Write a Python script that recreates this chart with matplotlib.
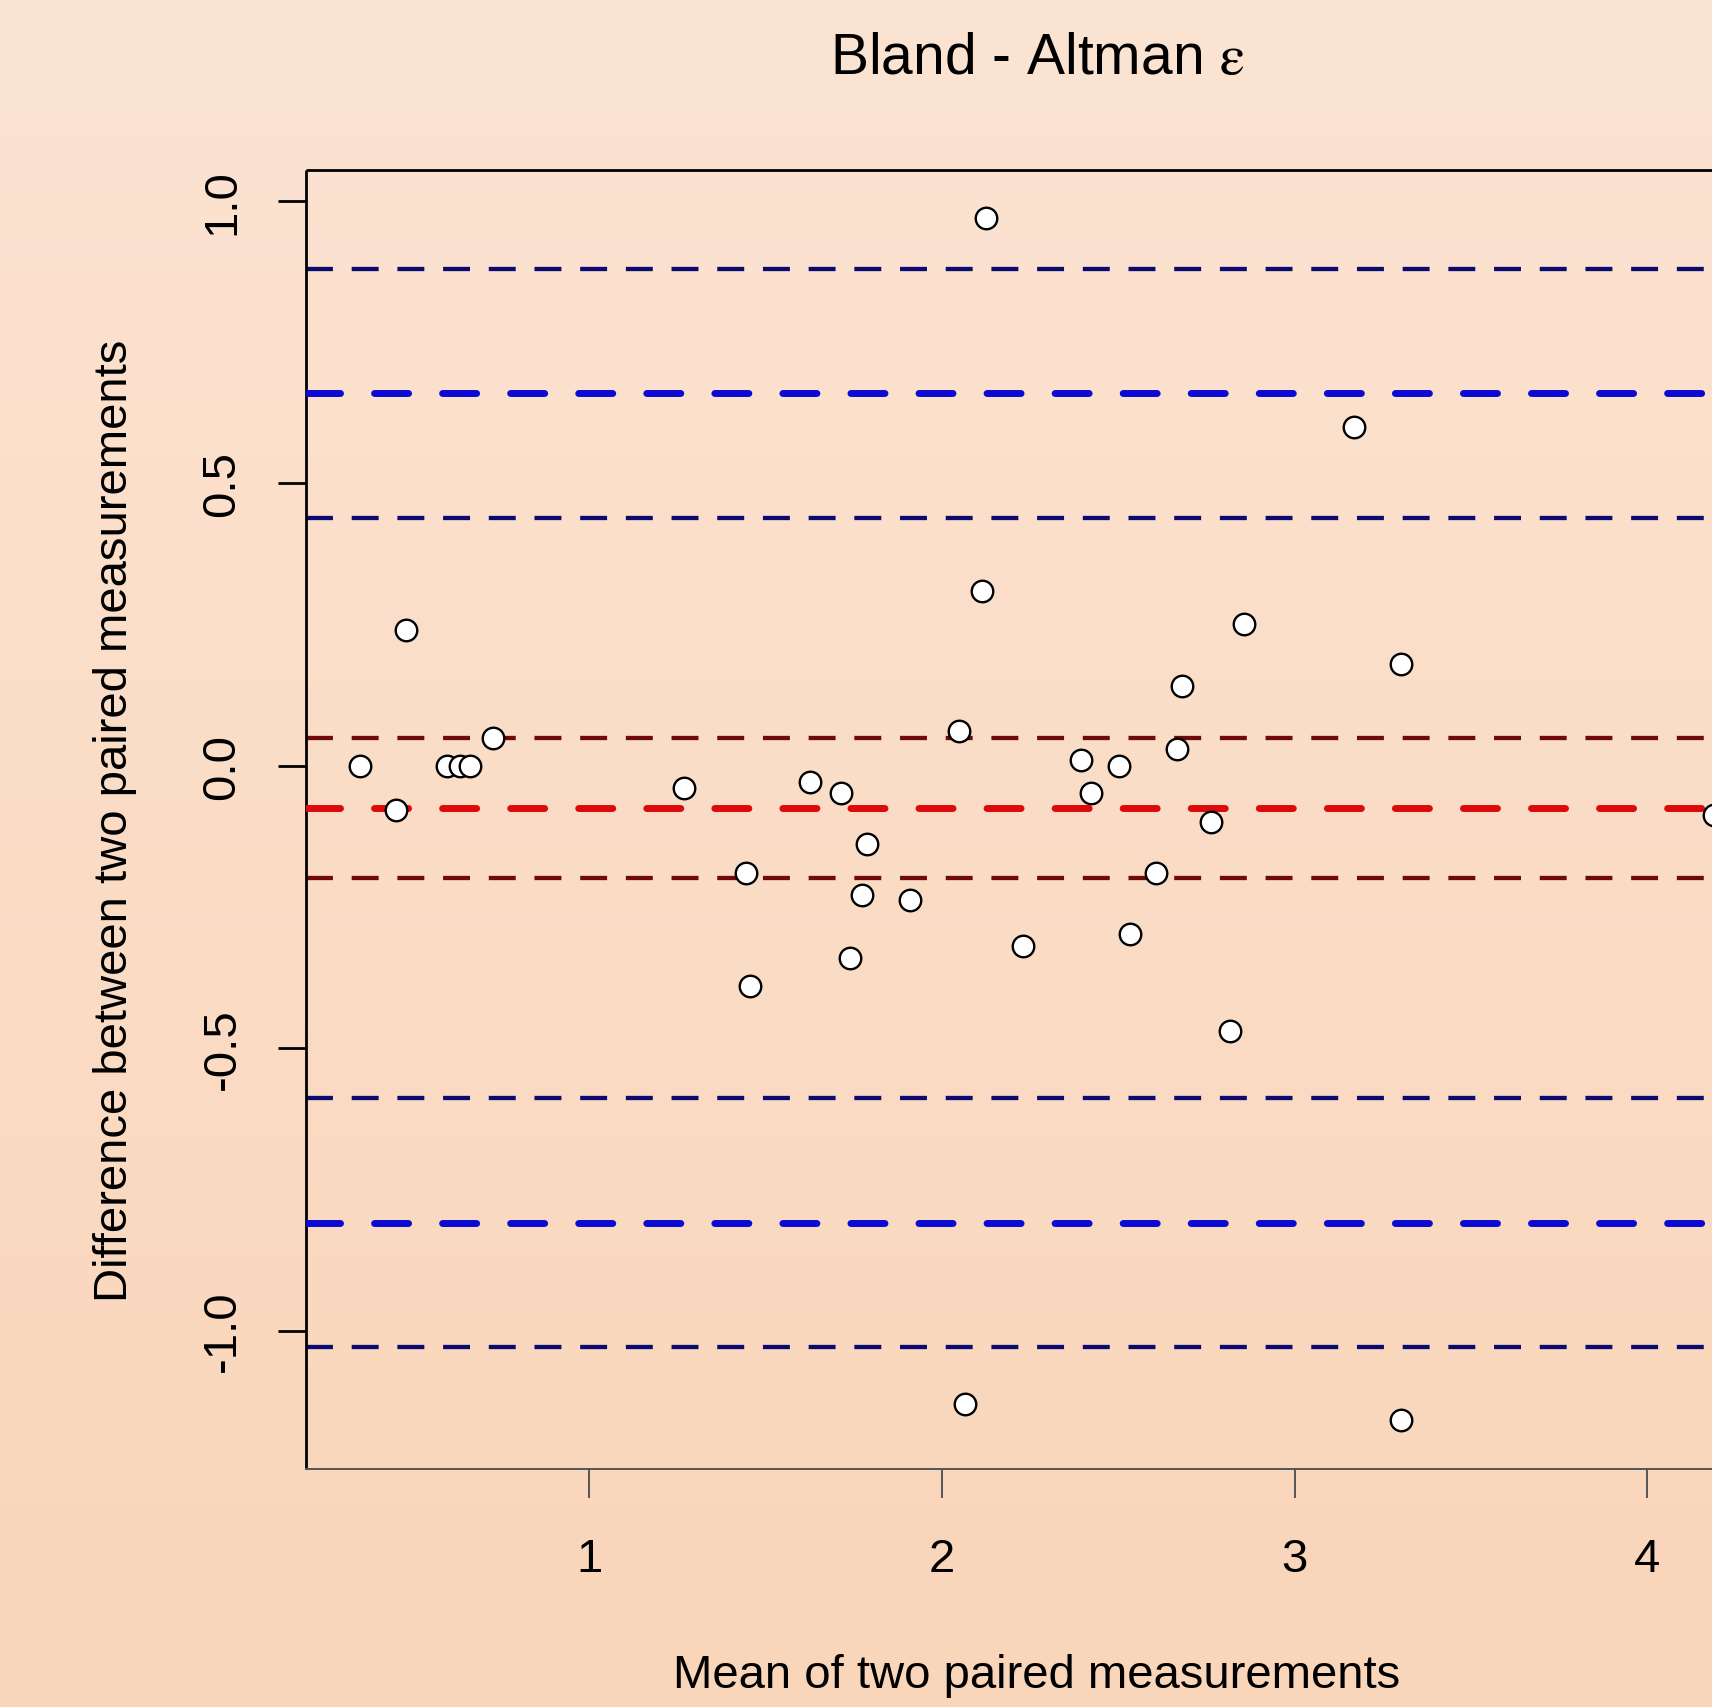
import numpy as np
import matplotlib
matplotlib.use("Agg")
import matplotlib.pyplot as plt

plt.rcParams['font.family'] = ['Liberation Sans', 'DejaVu Sans']
plt.rcParams['mathtext.fontset'] = 'stix'
plt.rcParams['lines.scale_dashes'] = False

# mean of the two measurements and their difference
mean_vals = [0.350, 0.452, 0.480, 0.598, 0.635, 0.663, 0.728, 1.269, 1.446, 1.455,
             1.625, 1.715, 1.740, 1.774, 1.789, 1.910, 2.050, 2.065, 2.115, 2.124,
             2.229, 2.396, 2.424, 2.502, 2.533, 2.607, 2.666, 2.681, 2.762, 2.817,
             2.858, 3.170, 3.303, 3.303, 4.190]
diff_vals = [0.000, -0.079, 0.240, 0.000, 0.000, 0.000, 0.050, -0.039, -0.190, -0.389,
             -0.029, -0.048, -0.340, -0.228, -0.139, -0.238, 0.062, -1.130, 0.309, 0.969,
             -0.319, 0.010, -0.048, 0.000, -0.298, -0.190, 0.029, 0.141, -0.099, -0.470,
             0.251, 0.600, 0.180, -1.159, -0.087]

bias = -0.075
bias_ci = [0.050, -0.199]
loa = [0.660, -0.809]
loa_upper_ci = [0.880, 0.439]
loa_lower_ci = [-0.588, -1.029]

xticks = [1, 2, 3, 4]
yticks = [-1.0, -0.5, 0.0, 0.5, 1.0]

W, H = 1712, 1708
fig = plt.figure(figsize=(W / 100, H / 100), dpi=100)

# background gradient
bg = fig.add_axes([0, 0, 1, 1], zorder=-10)
top = np.array([252, 228, 211]) / 255
bot = np.array([249, 213, 185]) / 255
t = np.linspace(0, 1, 256)[:, None]
grad = top[None, :] * (1 - t) + bot[None, :] * t
bg.imshow(grad[:, None, :], aspect='auto', extent=[0, 1, 0, 1])
bg.set_axis_off()

ax = fig.add_axes([0.1786, 0.1396, 0.856, 0.7601])
ax.set_facecolor('none')

ax.plot(mean_vals, diff_vals, 'o', ms=15.5, mfc='white', mec='black', mew=1.7, zorder=5)
ax.margins(x=0.04, y=0.04)

thin = dict(lw=3.1, linestyle=(0, (19.4, 13.5)), dash_capstyle='butt', zorder=2)
thick = dict(lw=5.0, linestyle=(0, (24.5, 24.5)), dash_capstyle='round', zorder=3)
for y in loa_upper_ci + loa_lower_ci:
    ax.axhline(y, color='#0a0a70', **thin)
for y in bias_ci:
    ax.axhline(y, color='#700a0a', **thin)
for y in loa:
    ax.axhline(y, color='#0a0ad2', **thick)
ax.axhline(bias, color='#dc0a0a', **thick)

ax.set_xticks(xticks)
ax.set_yticks(yticks)
ax.set_yticklabels(['%.1f' % v for v in yticks], rotation=90, va='center')

# keep the R scale: same px per unit, axes runs past the right edge
x0, x1 = ax.get_xlim()
ax.set_position([305.7 / W, 0.1396, (x1 - x0) * 352.7 / W, 0.7601])

for s in ['left', 'top', 'right']:
    ax.spines[s].set_color('black')
    ax.spines[s].set_linewidth(2.0)
    ax.spines[s].set_capstyle('butt')
ax.spines['bottom'].set_color('#555555')
ax.spines['bottom'].set_linewidth(1.4)

ax.tick_params(axis='x', length=21, width=1.4, color='#555555', labelsize=34, pad=28)
ax.tick_params(axis='y', length=20, width=2.0, color='black', labelsize=34, pad=24)

ax.set_title('Bland - Altman $\\mathrm{\\varepsilon}$', fontsize=41, pad=70)
ax.set_xlabel('Mean of two paired measurements', fontsize=34, labelpad=52)
ax.set_ylabel('Difference between two paired measurements', fontsize=34, labelpad=46)

fig.savefig('out.png', dpi=100)
